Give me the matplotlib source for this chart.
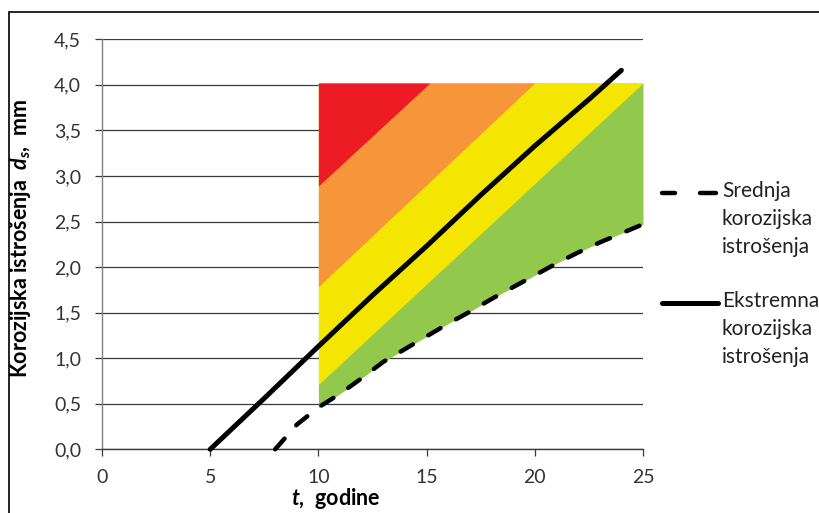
import numpy as np
import matplotlib
matplotlib.use("Agg")
import matplotlib.pyplot as plt
from matplotlib.lines import Line2D
from matplotlib.patches import Rectangle

plt.rcParams['font.family'] = ['Lato', 'DejaVu Sans']
plt.rcParams['mathtext.fontset'] = 'custom'
plt.rcParams['mathtext.it'] = 'Lato:italic:bold'
plt.rcParams['mathtext.rm'] = 'Lato:bold'

# ---- data ----
t_extreme = [5, 7.5, 10, 12.5, 15, 17.5, 20, 22.5, 24]
d_extreme = [0.0, 0.56, 1.13, 1.69, 2.23, 2.79, 3.33, 3.84, 4.16]

t_mean = [8, 9, 10, 11, 12, 13, 14, 15, 16, 17, 18, 19, 20, 21, 22, 23, 24, 25]
d_mean = [0.0, 0.27, 0.46, 0.61, 0.78, 0.96, 1.10, 1.24, 1.38, 1.51, 1.65,
          1.78, 1.91, 2.04, 2.16, 2.27, 2.37, 2.47]

zone_t = [10, 25]
zone_top = 4.02
red_edge = [2.89, 6.18]
orange_edge = [1.785, 5.14]
yellow_edge = [0.71, 4.02]

x_ticks = [0, 5, 10, 15, 20, 25]
y_ticks = [0.0, 0.5, 1.0, 1.5, 2.0, 2.5, 3.0, 3.5, 4.0, 4.5]
y_tick_labels = ["0,0", "0,5", "1,0", "1,5", "2,0", "2,5", "3,0", "3,5", "4,0", "4,5"]

c_red = '#ED1C24'
c_orange = '#F7953B'
c_yellow = '#F4E600'
c_green = '#92C84B'

# ---- figure ----
W, H = 820, 513
fig = plt.figure(figsize=(W / 100, H / 100), dpi=100)
ax = fig.add_axes([102 / W, 1 - 449.3 / H, (643 - 102) / W, (449.3 - 39.3) / H])

ax.set_xlim(0, 25)
ax.set_ylim(0, 4.5)

ax.set_yticks(y_ticks)
ax.set_yticklabels(y_tick_labels)
ax.set_xticks(x_ticks)
ax.yaxis.grid(True, color='#3a3a3a', lw=0.9, zorder=0)
ax.set_axisbelow(True)

# zones
tg = np.linspace(zone_t[0], zone_t[1], 601)
mean_g = np.interp(tg, t_mean, d_mean)
for edge, col in [(None, c_green), (yellow_edge, c_yellow),
                  (orange_edge, c_orange), (red_edge, c_red)]:
    if edge is None:
        low = mean_g
    else:
        low = np.interp(tg, zone_t, edge)
    mask = low <= zone_top
    ax.fill_between(tg, np.minimum(low, zone_top), zone_top, where=mask,
                    color=col, lw=0, zorder=1, interpolate=True)

dash = (0, (3.2, 4.0))
# lines
ax.plot(t_mean, d_mean, color='black', lw=3.2, linestyle=dash,
        dash_capstyle='round', zorder=3, clip_on=False)
ax.plot(t_extreme, d_extreme, color='black', lw=3.6, solid_capstyle='round',
        zorder=3, clip_on=False)

# spines & ticks
for s in ['top', 'right']:
    ax.spines[s].set_visible(False)
ax.spines['left'].set_color('#808080')
ax.spines['left'].set_linewidth(1.0)
ax.spines['bottom'].set_color('#3a3a3a')
ax.spines['bottom'].set_linewidth(1.0)
ax.tick_params(axis='y', direction='out', length=5, width=0.9, color='#3a3a3a',
               labelsize=14, pad=10, labelcolor='#333333')
ax.tick_params(axis='x', direction='out', length=5, width=0.9, color='#3a3a3a',
               labelsize=14, pad=9, labelcolor='#333333')

ax.set_ylabel(r"Korozijska istrošenja  $d_s$,  mm", fontsize=15.5, fontweight='bold')
ax.yaxis.set_label_coords(-0.128, 0.515)
ax.set_xlabel(r"$t$,  godine", fontsize=15.5, fontweight='bold')
ax.xaxis.set_label_coords(0.432, -0.09)

# legend (manual)
for x0, x1 in [(662, 675), (700, 716)]:
    fig.add_artist(Line2D([x0 / W, x1 / W], [1 - 193 / H, 1 - 193 / H],
                          transform=fig.transFigure, color='black', lw=3.2,
                          solid_capstyle='round'))
fig.add_artist(Line2D([662 / W, 718 / W], [1 - 303 / H, 1 - 303 / H],
                      transform=fig.transFigure, color='black', lw=3.6,
                      solid_capstyle='round'))
fig.text(722 / W, 1 - 181 / H, "Srednja\nkorozijska\nistrošenja", fontsize=15,
         va='top', ha='left', linespacing=1.5, color='#222222')
fig.text(722 / W, 1 - 291 / H, "Ekstremna\nkorozijska\nistrošenja", fontsize=15,
         va='top', ha='left', linespacing=1.5, color='#222222')

# outer frame
fig.add_artist(Rectangle((9.5 / W, -0.05), 1.2, (H - 12) / H + 0.05,
                         transform=fig.transFigure, fill=False, lw=1.2,
                         ec='black'))

fig.savefig("out.png", dpi=100)
